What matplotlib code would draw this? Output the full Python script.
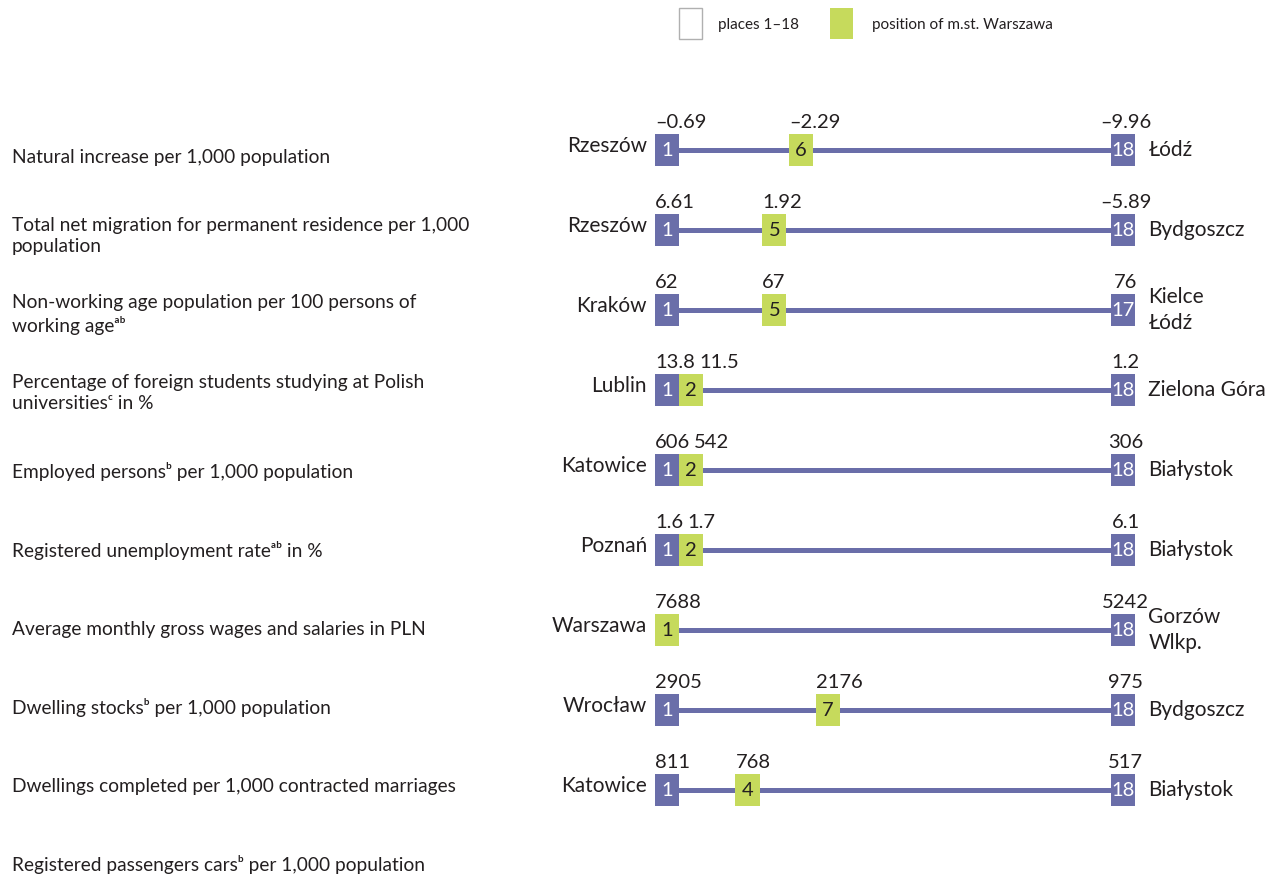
import matplotlib.pyplot as plt
from matplotlib.patches import Rectangle
import matplotlib.transforms as mtransforms

plt.rcParams['font.family'] = ['Lato', 'DejaVu Sans']

# indicator labels (left column)
indicators = [
    "Natural increase per 1,000 population",
    "Total net migration for permanent residence per 1,000\npopulation",
    "Non-working age population per 100 persons of\nworking ageᵃᵇ",
    "Percentage of foreign students studying at Polish\nuniversitiesᶜ in %",
    "Employed personsᵇ per 1,000 population",
    "Registered unemployment rateᵃᵇ in %",
    "Average monthly gross wages and salaries in PLN",
    "Dwelling stocksᵇ per 1,000 population",
    "Dwellings completed per 1,000 contracted marriages",
    "Registered passengers carsᵇ per 1,000 population",
]

# place 1
best_city = ["Rzeszów", "Rzeszów", "Kraków", "Lublin", "Katowice", "Poznań",
             "Warszawa", "Wrocław", "Katowice"]
best_vals = [-0.69, 6.61, 62, 13.8, 606, 1.6, 7688, 2905, 811]

# m.st. Warszawa
warsaw_rank = [6, 5, 5, 2, 2, 2, 1, 7, 4]
warsaw_vals = [-2.29, 1.92, 67, 11.5, 542, 1.7, 7688, 2176, 768]

# last place
worst_city = ["Łódź", "Bydgoszcz", "Kielce\nŁódź", "Zielona Góra", "Białystok",
              "Białystok", "Gorzów\nWlkp.", "Bydgoszcz", "Białystok"]
worst_rank = [18, 18, 17, 18, 18, 18, 18, 18, 18]
worst_vals = [-9.96, -5.89, 76, 1.2, 306, 6.1, 5242, 975, 517]

decimals = [2, 2, 0, 1, 0, 1, 0, 0, 0]

purple = '#6a6ea9'
green = '#c6da5c'
textc = '#231f20'


def fmt(v, d):
    return f"{v:.{d}f}".replace('-', '–')


fig = plt.figure(figsize=(12.7, 8.76), dpi=100)
ax = fig.add_axes([0, 0, 1, 1])
ax.set_axis_off()

# rank 1 at x=667px, rank 18 at x=1123px; rows 80px apart starting at y=150px
step = (1123 - 667) / 17
ax.set_xlim(1 - 667 / step, 1 + (1270 - 667) / step)
ax.set_ylim((876 - 150) / 80, -150 / 80)

w, h = 0.9, 0.40
left_tr = mtransforms.blended_transform_factory(ax.transAxes, ax.transData)

for i, lab in enumerate(indicators):
    ax.text(12 / 1270, 0.09 + 0.983 * i, lab, transform=left_tr, ha='left',
            va='center', fontsize=13.8, color=textc, linespacing=1.3)


def square(x, y, color, label, tcolor, dx=0):
    ax.add_patch(Rectangle((x - w / 2 + dx, y - h / 2), w, h, facecolor=color,
                           edgecolor='none', zorder=3))
    ax.text(x + dx, y, str(label), ha='center', va='center', fontsize=14.5,
            color=tcolor, zorder=4)


for i in range(len(best_city)):
    y = i
    ax.plot([1, 18], [y, y], color=purple, lw=3.6, zorder=1,
            solid_capstyle='butt')
    wr = warsaw_rank[i]
    d = decimals[i]
    top = y - h / 2 - 0.07

    # last place always at the end of the scale
    square(18, y, purple, worst_rank[i], 'white')
    ax.text(18.1, top, fmt(worst_vals[i], d), ha='center', va='baseline',
            fontsize=14.5, color=textc)
    ax.text(18 + w / 2 + 0.5, y, worst_city[i], ha='left', va='center',
            fontsize=15, color=textc, linespacing=1.4)
    ax.text(1 - w / 2 - 0.3, y - 0.05, best_city[i], ha='right', va='center',
            fontsize=15, color=textc)

    if wr == 1:
        square(1, y, green, 1, textc)
        ax.text(1 - w / 2, top, fmt(warsaw_vals[i], d), ha='left',
                va='baseline', fontsize=14.5, color=textc)
        continue

    square(1, y, purple, 1, 'white')
    first = ax.text(1 - w / 2, top, fmt(best_vals[i], d), ha='left',
                    va='baseline', fontsize=14.5, color=textc)
    if wr == 2:
        # neighbouring squares touch each other
        square(wr, y, green, wr, textc, dx=w - 1)
        ax.annotate(fmt(warsaw_vals[i], d), xy=(1, 0), xycoords=first,
                    xytext=(3, 0), textcoords='offset points', ha='left',
                    va='bottom', fontsize=14.5, color=textc)
    else:
        square(wr, y, green, wr, textc)
        ax.text(wr - w / 2, top, fmt(warsaw_vals[i], d), ha='left',
                va='baseline', fontsize=14.5, color=textc)

# legend
W, H = 1270, 876
fig.add_artist(Rectangle((679 / W, 1 - 39 / H), 23 / W, 31 / H,
                         facecolor='white', edgecolor='#b0b0b0', lw=1,
                         transform=fig.transFigure))
fig.text(718 / W, 1 - 25 / H, "places 1–18", ha='left', va='center',
         fontsize=11, color=textc)
fig.add_artist(Rectangle((830 / W, 1 - 39 / H), 23 / W, 31 / H,
                         facecolor=green, edgecolor='none',
                         transform=fig.transFigure))
fig.text(872 / W, 1 - 25 / H, "position of m.st. Warszawa", ha='left',
         va='center', fontsize=11, color=textc)

fig.savefig('out.png', dpi=100)
